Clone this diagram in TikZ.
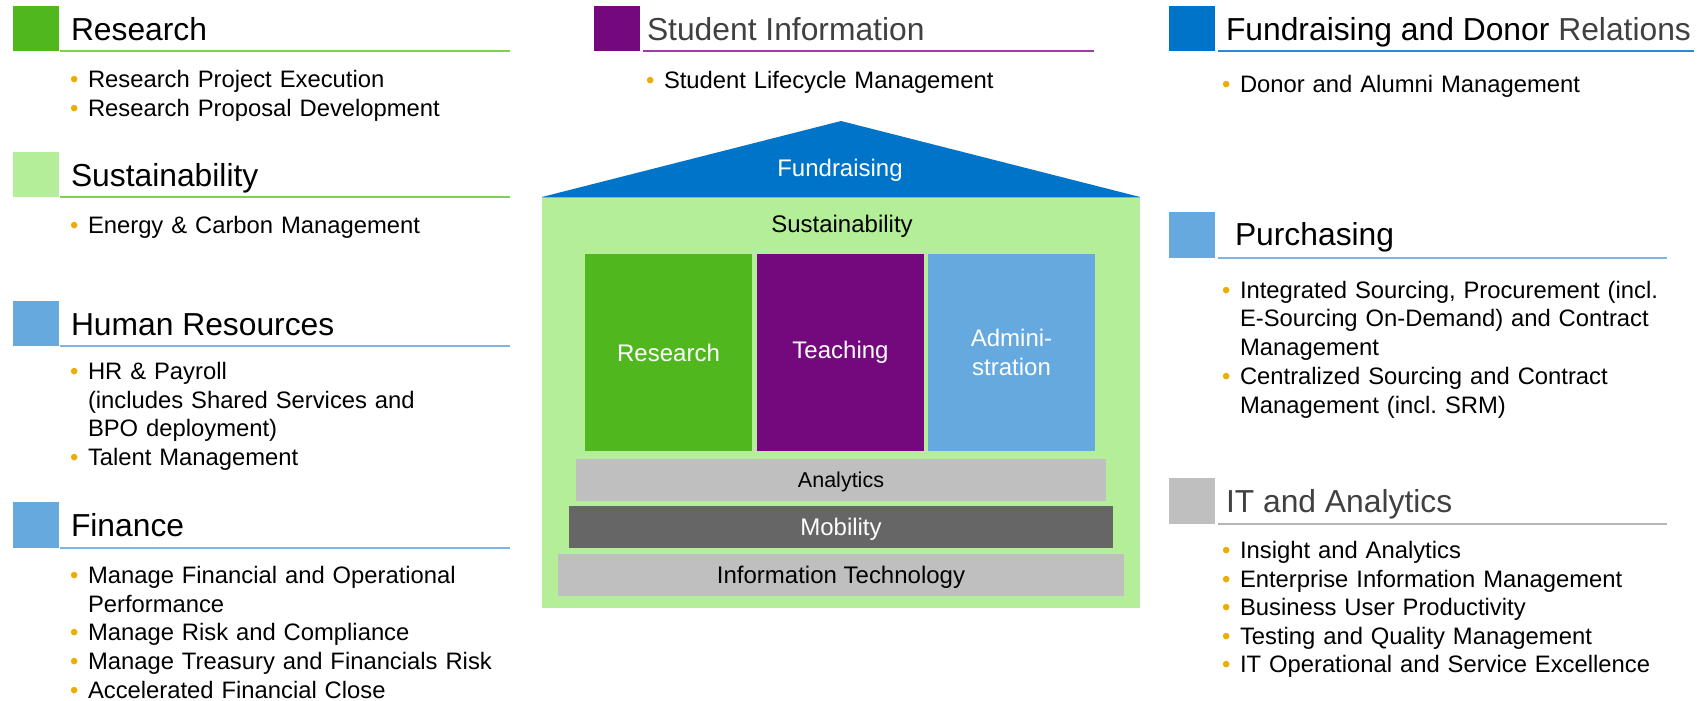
\documentclass[tikz,border=0pt]{standalone}
\usepackage{fontspec}
\setmainfont{Liberation Sans}
\frenchspacing
\definecolor{resgreen}{HTML}{50B81E}
\definecolor{susgreen}{HTML}{B4EE98}
\definecolor{stupurple}{HTML}{74097E}
\definecolor{adminblue}{HTML}{66A9DF}
\definecolor{fundblue}{HTML}{0074C8}
\definecolor{itgray}{HTML}{BFBFBF}
\definecolor{mobgray}{HTML}{666666}
\definecolor{bulorange}{HTML}{F0AB00}
\definecolor{titlegray}{HTML}{404040}
\definecolor{greenline}{HTML}{7CD150}
\definecolor{blueline}{HTML}{7AB5E8}
\definecolor{purpleline}{HTML}{9B3FA6}
\definecolor{fundline}{HTML}{2F86D4}
\definecolor{grayline}{HTML}{B5B5B5}
\newcommand{\bul}{\makebox[0pt][r]{\textcolor{bulorange}{•}\hspace{9.6pt}}}
\begin{document}
\begin{tikzpicture}[x=1pt,y=-1pt,
		every node/.style={inner sep=0pt, outer sep=0pt, text=black},
		sq/.style={fill=#1, minimum width=46pt, minimum height=45.5pt, anchor=north west},
		ttl/.style={anchor=base west, font=\fontsize{31.8}{36}\selectfont},
		uline/.style={draw=#1, line width=2pt},
		blist/.style={anchor=base west, align=left, text width=440pt, font=\fontsize{23.8}{28.75}\selectfont},
		blk/.style={fill=#1, minimum width=167pt, minimum height=197pt, text=white, align=center, font=\fontsize{24}{29}\selectfont},
		bar/.style={fill=#1, minimum height=42pt, text height=17pt, text depth=0pt, font=\fontsize{24}{29}\selectfont} ]
			\useasboundingbox (0,0) rectangle (1703,701);

			% left column
			\node[sq=resgreen] (ressq) at (13,6) {};
			\node[ttl] (resttl) at (71,40.7) {Research};
			\draw[uline=greenline] (60,51.5) -- (510,51.5);
			\node[blist] (reslist) at (88,87.3) {\bul Research Project Execution\\\bul Research Proposal Development};

			\node[sq=susgreen] (sussq) at (13,151.5) {};
			\node[ttl] (susttl) at (71,186.2) {Sustainability};
			\draw[uline=greenline] (60,197) -- (510,197);
			\node[blist] (suslist) at (88,233.5) {\bul Energy \& Carbon Management};

			\node[sq=adminblue] (hrsq) at (13,300.5) {};
			\node[ttl] (hrttl) at (71,335.2) {Human Resources};
			\draw[uline=blueline] (60,346) -- (510,346);
			\node[blist] (hrlist) at (88,379.4) {\bul HR \& Payroll\\(includes Shared Services and\\BPO deployment)\\\bul Talent Management};

			\node[sq=adminblue] (finsq) at (13,502) {};
			\node[ttl] (finttl) at (71,536.7) {Finance};
			\draw[uline=blueline] (60,547.5) -- (510,547.5);
			\node[blist] (finlist) at (88,583.3) {\bul Manage Financial and Operational\\Performance\\\bul Manage Risk and Compliance\\\bul Manage Treasury and Financials Risk\\\bul Accelerated Financial Close};

			% middle column
			\node[sq=stupurple] (stusq) at (594,6) {};
			\node[ttl, text=titlegray] (stuttl) at (647,40.7) {Student Information};
			\draw[uline=purpleline] (643,51.5) -- (1094,51.5);
			\node[blist] (stulist) at (664,88.4) {\bul Student Lifecycle Management};

			% the house
			\node[fill=susgreen, minimum width=598pt, minimum height=411pt] (house) at (841,402.5) {};
			\fill[fundblue] (542,197) -- (841,121) -- (1140,197) -- cycle;
			\draw[blueline, line width=1pt] (542,197) -- (1140,197);
			\node[text=white, font=\fontsize{24}{29}\selectfont] (roof) at (840,170) {Fundraising};
			\node[font=\fontsize{24}{29}\selectfont] (sus) at (842,226) {Sustainability};

			\node[blk=resgreen] (res) at (668.5,352.5) {Research};
			\node[blk=stupurple] (teach) at (840.5,352.5) {Teaching};
			\node[blk=adminblue] (admin) at (1011.5,352.5) {Admini-\\stration};

			\node[bar=itgray, minimum width=530pt, text height=15.5pt, font=\fontsize{21.5}{26}\selectfont] (ana) at (841,480) {Analytics};
			\node[bar=mobgray, minimum width=544pt, text=white] (mob) at (841,527) {Mobility};
			\node[bar=itgray, minimum width=566pt] (itbar) at (841,575) {Information Technology};

			% right column
			\node[sq=fundblue] (fundsq) at (1169,6) {};
			\node[ttl] (fundttl) at (1226,40.7) {Fundraising and Donor \textcolor{titlegray}{Relations}};
			\draw[uline=fundline] (1217.5,51.5) -- (1694,51.5);
			\node[blist] (fundlist) at (1240,92.7) {\bul Donor and Alumni Management};

			\node[sq=adminblue] (pursq) at (1169,212) {};
			\node[ttl] (purttl) at (1235,245.7) {Purchasing};
			\draw[uline=blueline] (1217.5,257.5) -- (1667,257.5);
			\node[blist] (purlist) at (1240,298) {\bul Integrated Sourcing, Procurement (incl.\\E-Sourcing On-Demand) and Contract\\Management\\\bul Centralized Sourcing and Contract\\Management (incl. SRM)};

			\node[sq=itgray] (itsq) at (1169,478) {};
			\node[ttl, text=titlegray] (itttl) at (1226,512.7) {IT and Analytics};
			\draw[uline=grayline] (1217.5,523.5) -- (1667,523.5);
			\node[blist, font=\fontsize{23.8}{28.5}\selectfont] (itlist) at (1240,558.6) {\bul Insight and Analytics\\\bul Enterprise Information Management\\\bul Business User Productivity\\\bul Testing and Quality Management\\\bul IT Operational and Service Excellence};
		\end{tikzpicture}
\end{document}
